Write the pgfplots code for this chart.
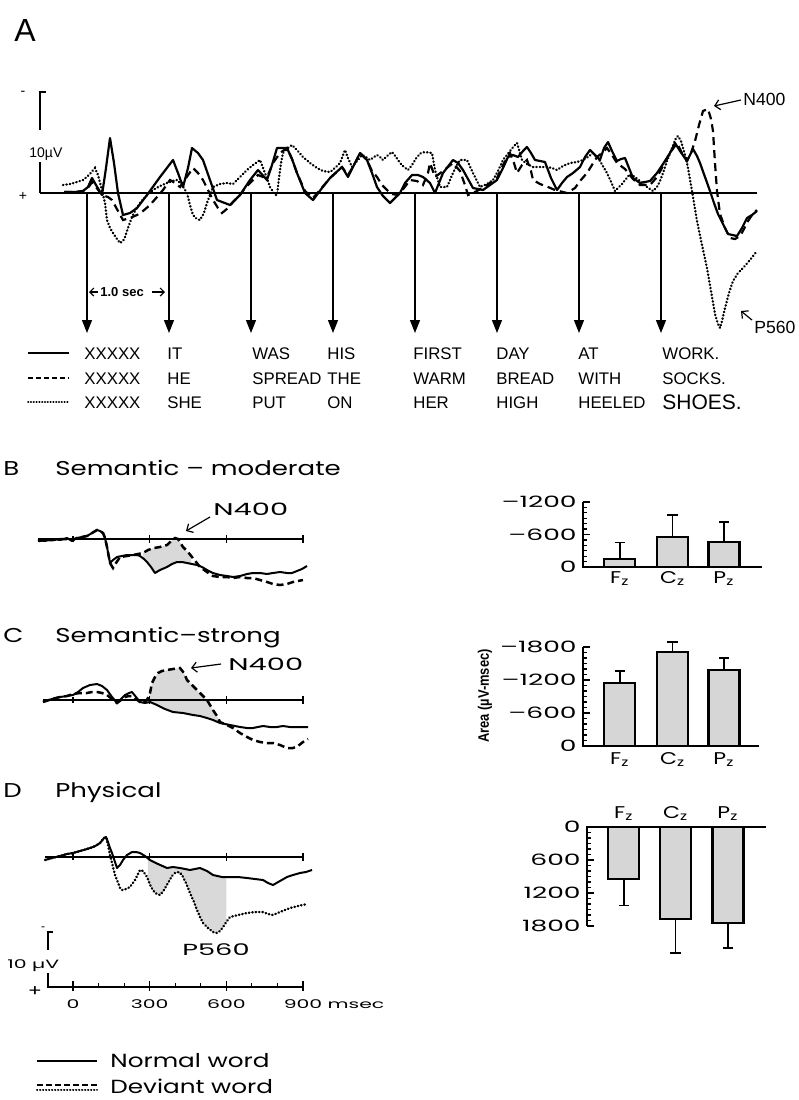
\documentclass[border=0pt]{standalone}
\usepackage{fontspec}
\setmainfont{Liberation Sans}
\newfontfamily\geo[FakeStretch=1.3]{Poppins}
\newfontfamily\geowide[FakeStretch=1.7]{Poppins}
\newfontfamily\narrowbold[FakeStretch=0.85]{Liberation Sans}
\usepackage{pgfplots}
\pgfplotsset{compat=1.18}
\usepackage{pgfplotstable}
\usepgfplotslibrary{fillbetween}
\usetikzlibrary{arrows.meta}
\newcommand{\fs}[1]{\fontsize{#1}{#1}\selectfont}

% ---------- Panel A: sentence ERPs (px = horizontal position, h = height above baseline) ----------
\pgfplotstableread{
px h
64 1
75 1
83 2
88 6
92 15
96 8
102 -2
106 25
110 55
114 30
118 0
123 -22
130 -20
137 -15
147 -2
160 16
173 33
178 20
183 6
188 25
192 45
198 40
203 33
210 13
217 -7
230 -12
240 -2
250 13
258 23
267 13
272 28
277 45
287 45
292 34
297 20
305 0
313 -7
322 5
330 15
342 26
348 16
354 28
360 40
367 33
372 20
377 6
383 -3
390 -10
400 0
405 10
412 18
418 18
423 16
430 10
435 0
443 20
453 33
458 30
463 23
468 14
473 5
483 3
497 13
503 25
508 36
513 38
518 36
523 42
527 46
531 40
535 33
540 32
545 31
551 15
557 3
562 10
567 16
573 20
580 26
585 36
590 43
595 38
600 33
604 45
608 51
612 42
617 32
621 34
625 35
629 25
633 15
640 10
650 12
657 20
663 29
670 40
675 50
680 42
687 32
690 38
693 44
697 37
700 30
705 16
710 2
714 -10
718 -21
723 -31
728 -41
737 -43
742 -35
747 -25
752 -22
757 -18
}\Asolid

\pgfplotstableread{
px h
64 1
75 1
83 2
88 5
92 11
96 6
102 -2
108 -4
112 -7
118 -18
123 -27
130 -25
137 -22
143 -18
150 -12
157 -4
163 3
170 13
175 10
180 6
186 15
193 25
198 20
203 13
208 3
213 -7
218 -15
222 -20
228 -15
233 -9
240 -2
245 5
252 12
258 18
263 16
268 18
273 30
280 40
287 45
292 34
297 20
305 2
313 -5
320 3
330 15
342 26
348 18
354 28
360 40
367 33
372 22
377 16
382 8
387 3
392 -1
398 -2
404 5
410 13
417 12
423 8
428 20
430 30
435 16
443 22
453 30
460 22
465 8
468 -2
477 2
487 8
497 15
503 28
510 40
514 30
517 20
522 28
527 33
531 22
533 13
540 9
548 6
555 3
567 0
575 5
580 12
587 20
592 28
597 36
602 40
607 45
612 38
617 30
625 24
633 14
640 8
650 8
657 16
663 27
670 40
677 50
682 40
687 32
691 40
695 52
699 68
703 82
708 84
711 74
713 62
715 30
717 2
720 -21
725 -35
730 -45
735 -46
740 -43
744 -36
748 -28
752 -22
757 -17
}\Adashed

\pgfplotstableread{
px h
63 8
70 9
77 11
83 13
89 18
95 25
98 18
102 3
105 -10
107 -27
110 -35
113 -40
117 -46
120 -50
123 -48
125 -44
128 -35
132 -24
136 -16
140 -10
146 -3
153 3
160 7
167 10
172 12
177 13
182 8
187 0
190 -12
193 -22
197 -26
200 -27
204 -20
207 -10
210 -2
213 6
220 9
227 10
233 9
237 13
242 18
247 23
253 28
260 33
265 20
270 6
275 -2
277 -2
279 15
281 30
283 40
288 45
292 48
297 43
303 36
310 30
317 25
323 22
330 21
335 25
340 30
345 43
348 35
352 26
357 32
362 38
366 36
370 33
374 36
377 38
380 36
383 33
387 37
392 41
396 36
400 30
404 26
408 23
412 28
417 36
421 40
425 41
432 40
435 23
440 6
447 6
453 20
457 28
460 33
467 33
473 20
480 6
487 9
493 13
498 22
503 33
510 42
514 47
517 50
520 40
522 33
527 29
533 26
540 26
547 26
552 25
557 23
563 27
570 30
577 31
583 33
588 36
593 40
600 32
607 20
612 9
615 2
618 5
622 9
626 14
630 19
635 16
640 12
647 6
653 2
657 6
660 12
663 20
667 32
672 45
676 55
678 57
681 52
683 45
686 35
688 25
692 2
697 -28
702 -52
707 -75
711 -98
715 -121
718 -131
720 -135
722 -128
725 -115
729 -100
733 -88
738 -80
743 -75
750 -67
757 -58
}\Adotted

% ---------- Panels B-D: (px = horizontal position, py = vertical position) ----------
\pgfplotstableread{
px py
38 540
45 541
53 539
60 540
67 538
72 541
77 538
82 537
87 536
92 533
97 530
100 531
103 533
105 538
107 547
110 563
113 560
117 557
122 556
127 555
132 555
137 555
140 556
144 559
147 562
151 567
155 573
160 570
167 567
172 564
177 562
182 562
187 563
192 564
197 565
202 567
207 570
213 573
220 575
227 576
233 577
240 576
247 574
253 573
260 573
267 574
273 573
280 572
287 573
292 573
297 571
302 569
307 566
}\Bnorm

\pgfplotstableread{
px py
38 541
45 540
53 540
60 539
67 539
72 540
77 538
82 537
87 536
92 533
97 530
100 531
103 533
105 538
107 547
110 563
113 568
116 563
120 557
127 556
133 555
138 554
143 553
148 550
154 548
160 547
167 545
171 541
175 538
178 539
183 547
188 552
192 557
196 562
200 567
207 572
213 576
220 577
227 577
233 578
240 577
247 578
253 578
260 580
267 582
273 584
280 585
287 584
293 582
298 581
303 580
}\Bdev

\pgfplotstableread{
px py
43 702
52 699
60 697
67 696
73 695
78 692
83 688
90 685
97 684
102 686
107 690
112 697
117 703
121 699
125 695
129 693
132 692
136 697
140 702
145 703
150 702
157 705
165 709
173 712
183 713
193 715
200 716
207 718
213 720
220 723
230 725
240 727
247 728
253 728
258 727
263 726
270 727
277 727
283 726
290 727
297 727
303 727
308 727
}\Cnorm

\pgfplotstableread{
px py
43 702
52 699
60 697
67 696
73 694
80 693
87 693
92 692
97 692
102 693
107 695
112 699
117 703
121 700
125 697
129 696
132 696
136 699
140 702
143 703
147 700
150 693
152 683
155 677
158 673
162 671
167 670
173 669
180 668
184 673
187 680
192 685
197 690
202 695
207 700
210 705
213 710
217 716
220 722
227 725
233 728
240 733
247 737
253 740
260 742
267 743
273 743
280 745
287 748
293 748
298 746
303 742
308 739
}\Cdev

\pgfplotstableread{
px py
45 860
52 858
60 856
67 854
73 853
80 851
87 849
93 847
97 845
100 843
104 838
106 837
108 842
110 848
112 853
115 862
117 868
120 865
123 860
127 855
132 852
136 852
140 853
145 856
150 860
158 864
167 868
173 867
180 868
185 869
190 870
195 869
200 868
207 871
213 875
222 877
230 877
238 877
247 878
255 879
263 880
268 883
273 885
280 881
287 877
293 875
300 873
306 872
312 870
}\Dnorm

\pgfplotstableread{
px py
45 860
52 858
60 856
67 854
73 853
80 851
87 849
93 847
97 845
100 843
104 838
106 837
108 845
110 855
113 867
115 875
117 880
120 888
122 890
126 889
130 887
135 880
140 870
143 871
147 877
151 887
155 893
160 895
164 890
168 883
172 876
175 873
179 872
182 875
186 883
190 893
194 902
197 910
200 917
203 923
208 928
213 932
217 933
220 931
223 927
227 921
230 917
238 915
247 913
255 912
263 912
268 914
273 915
280 912
290 908
298 906
307 904
}\Ddev

\pgfplotsset{
  wave/.style={at={#1}, anchor=north west, scale only axis, width=145pt, height=71.5pt,
    xmin=-168.3, xmax=966.5, ymin=-10, ymax=16, y dir=reverse, hide axis, clip=false},
  barax/.style={anchor=north west, scale only axis, xmin=0.3, xmax=3.65, width=89.4pt,
    y dir=reverse, axis line style={draw=none}, xtick=\empty, ytick pos=left,
    yticklabels=\empty,
    minor y tick num=5, tick align=inside, major tick length=3.4pt, minor tick length=1.9pt,
    every tick/.style={black, line width=0.6pt}, clip=false},
  bars/.style={ybar, bar width=15.5pt, fill=gray!32, draw=black, line width=1.1pt,
    error bars/.cd, y dir=#1, y explicit,
    error bar style={line width=0.8pt},
    error mark options={rotate=90, mark size=2.6pt, line width=0.8pt}},
  normal/.style={black, line width=1.0pt, line join=round},
  devdash/.style={black, line width=1.25pt, dash pattern=on 3.5pt off 2pt},
  devdot/.style={black, line width=1.25pt, dash pattern=on 0.2pt off 1.5pt, line cap=round},
}
\tikzset{
  ylab/.style={anchor=east, inner sep=0, font=\geowide\fs{7.8}, xshift=-3pt},
  elec/.style={anchor=base, inner sep=0, font=\geo\fs{8.5}},
}

\begin{document}
\begin{tikzpicture}

% ================= Panel A =================
\begin{axis}[at={(20pt,-40pt)}, anchor=north west, scale only axis,
  width=358.5pt, height=130pt, xmin=-0.5732, xmax=8.1707, ymin=-11.3, ymax=14.7,
  y dir=reverse, hide axis, clip=false]
  \draw[black, line width=0.9pt] (axis cs:-0.5732,0) -- (axis cs:8.1707,0);
  \pgfplotsinvokeforeach{0,1,2,3,4,5,6,7}{
    \draw[black, line width=0.6pt, -{Triangle[width=5pt,length=6.5pt]}]
      (axis cs:#1,0) -- (axis cs:#1,14.0);
  }
  \addplot[devdot, line width=1.2pt] table[x expr=(\thisrow{px}-87)/82, y expr=0-(\thisrow{h})/10] {\Adotted};
  \addplot[devdash, line width=1.1pt, dash pattern=on 4pt off 2.5pt] table[x expr=(\thisrow{px}-87)/82, y expr=0-(\thisrow{h})/10] {\Adashed};
  \addplot[normal, line width=1.1pt] table[x expr=(\thisrow{px}-87)/82, y expr=0-(\thisrow{h})/10] {\Asolid};
\end{axis}

\begin{scope}[x=0.5pt, y=-0.5pt]
  \node[anchor=base west, inner sep=0, font=\fs{16}] at (14,41) {A};
  % calibration
  \draw[line width=0.8pt] (46,92) -- (40,92) -- (40,130);
  \draw[line width=0.8pt] (40,162) -- (40,193);
  \node[font=\fs{7}] at (23,93) {-};
  \node[font=\fs{7}] at (23,196) {+};
  \node[anchor=base west, inner sep=0, font=\fs{7}] at (29,157) {10µV};
  % 1.0 sec
  \draw[line width=0.6pt, -{Straight Barb[length=2pt]}] (98,292) -- (89,292);
  \node[anchor=base west, inner sep=0, font=\bfseries\fs{6.5}] at (100,296) {1.0 sec};
  \draw[line width=0.6pt, -{Straight Barb[length=2pt]}] (152,292) -- (165,292);
  % N400 / P560
  \draw[line width=0.6pt, -{Straight Barb[length=2.5pt]}] (741,100) -- (714,106);
  \node[anchor=base west, inner sep=0, font=\fs{8.8}] at (743,105) {N400};
  \draw[line width=0.6pt, -{Straight Barb[length=2.5pt]}] (752,320) -- (741,311);
  \node[anchor=base west, inner sep=0, font=\fs{8.8}] at (754,333) {P560};
  % sentence legend
  \draw[line width=0.9pt] (28,353) -- (69,353);
  \draw[line width=0.9pt, dash pattern=on 2.5pt off 1.5pt] (28,378) -- (69,378);
  \draw[line width=0.9pt, dash pattern=on 0.2pt off 1.2pt, line cap=round] (28,402) -- (69,402);
  \begin{scope}[every node/.style={anchor=base west, inner sep=0, font=\fs{8.4}}]
    \node at (84,359) {XXXXX}; \node at (167,359) {IT}; \node at (252,359) {WAS};
    \node at (327,359) {HIS}; \node at (413,359) {FIRST}; \node at (496,359) {DAY};
    \node at (578,359) {AT}; \node at (662,359) {WORK.};
    \node at (84,384) {XXXXX}; \node at (167,384) {HE}; \node at (252,384) {SPREAD};
    \node at (327,384) {THE}; \node at (413,384) {WARM}; \node at (496,384) {BREAD};
    \node at (578,384) {WITH}; \node at (662,384) {SOCKS.};
    \node at (84,408) {XXXXX}; \node at (167,408) {SHE}; \node at (252,408) {PUT};
    \node at (327,408) {ON}; \node at (413,408) {HER}; \node at (496,408) {HIGH};
    \node at (578,408) {HEELED}; \node[font=\fs{10.5}] at (662,409) {SHOES.};
  \end{scope}
  % panel titles
  \node[anchor=base west, inner sep=0, font=\geo\fs{10}] at (3,475) {B};
  \node[anchor=base west, inner sep=0, font=\geo\fs{10}] at (55,475) {Semantic – moderate};
  \node[anchor=base west, inner sep=0, font=\geo\fs{10}] at (3,642) {C};
  \node[anchor=base west, inner sep=0, font=\geo\fs{10}] at (55,642) {Semantic–strong};
  \node[anchor=base west, inner sep=0, font=\geo\fs{10}] at (3,797) {D};
  \node[anchor=base west, inner sep=0, font=\geo\fs{10}] at (55,797) {Physical};
  % N400 labels B, C; P560 D
  \draw[line width=0.6pt, -{Straight Barb[length=2.5pt]}] (210,517) -- (186,531);
  \node[anchor=base west, inner sep=0, font=\geowide\fs{8.5}] at (213,515) {N400};
  \draw[line width=0.6pt, -{Straight Barb[length=2.5pt]}] (221,664) -- (191,668);
  \node[anchor=base west, inner sep=0, font=\geowide\fs{8.5}] at (228,670) {N400};
  \node[anchor=base west, inner sep=0, font=\geowide\fs{8}] at (182,955) {P560};
  % calibration D
  \node[font=\fs{6}] at (43,929) {-};
  \draw[line width=0.8pt] (53,932) -- (48,932) -- (48,950);
  \node[anchor=base west, inner sep=0, font=\geowide\fs{6}] at (7,968) {10 µV};
  \node[font=\geo\fs{8}] at (35,992) {+};
  % bottom legend
  \draw[line width=1pt] (37,1061) -- (97,1061);
  \draw[line width=1pt, dash pattern=on 3pt off 1.5pt] (37,1085) -- (97,1085);
  \draw[line width=1pt, dash pattern=on 0.2pt off 1.3pt, line cap=round] (37,1090) -- (97,1090);
  \node[anchor=base west, inner sep=0, font=\geo\fs{9.5}] at (110,1067) {Normal word};
  \node[anchor=base west, inner sep=0, font=\geo\fs{9.5}] at (110,1093) {Deviant word};
  % Area label
  \node[rotate=90, font=\narrowbold\bfseries\fs{7.6}] at (485,696) {Area (µV-msec)};
\end{scope}

% ================= Panel B waveform =================
\begin{axis}[wave={(15pt,-242pt)}]
  \addplot[name path=Bd, draw=none] table[x expr=(\thisrow{px}-73)/0.25556, y expr=(\thisrow{py}-539)/5.5] {\Bdev};
  \addplot[name path=Bn, draw=none] table[x expr=(\thisrow{px}-73)/0.25556, y expr=(\thisrow{py}-539)/5.5] {\Bnorm};
  \addplot[gray!30] fill between[of=Bd and Bn, soft clip={(axis cs:274,-20) rectangle (axis cs:462,30)}];
  \draw[line width=0.6pt] (axis cs:-137,0) -- (axis cs:900,0);
  \draw[line width=0.6pt] (axis cs:0,-0.5) -- (axis cs:0,0.5);
  \pgfplotsinvokeforeach{300,600,900}{\draw[line width=0.6pt] (axis cs:#1,-0.8) -- (axis cs:#1,0.8);}
  \addplot[devdash] table[x expr=(\thisrow{px}-73)/0.25556, y expr=(\thisrow{py}-539)/5.5] {\Bdev};
  \addplot[normal] table[x expr=(\thisrow{px}-73)/0.25556, y expr=(\thisrow{py}-539)/5.5] {\Bnorm};
\end{axis}

% ================= Panel C waveform =================
\begin{axis}[wave={(15pt,-322.5pt)}]
  \addplot[name path=Cd, draw=none] table[x expr=(\thisrow{px}-73)/0.25556, y expr=(\thisrow{py}-700)/5.5] {\Cdev};
  \addplot[name path=Cn, draw=none] table[x expr=(\thisrow{px}-73)/0.25556, y expr=(\thisrow{py}-700)/5.5] {\Cnorm};
  \addplot[gray!30] fill between[of=Cd and Cn, soft clip={(axis cs:300,-20) rectangle (axis cs:585,30)}];
  \draw[line width=0.6pt] (axis cs:-117,0) -- (axis cs:900,0);
  \draw[line width=0.6pt] (axis cs:0,-0.5) -- (axis cs:0,0.5);
  \pgfplotsinvokeforeach{300,600,900}{\draw[line width=0.6pt] (axis cs:#1,-0.8) -- (axis cs:#1,0.8);}
  \addplot[devdash] table[x expr=(\thisrow{px}-73)/0.25556, y expr=(\thisrow{py}-700)/5.5] {\Cdev};
  \addplot[normal] table[x expr=(\thisrow{px}-73)/0.25556, y expr=(\thisrow{py}-700)/5.5] {\Cnorm};
\end{axis}

% ================= Panel D waveform =================
\begin{axis}[wave={(15pt,-401pt)}]
  \addplot[name path=Dd, draw=none] table[x expr=(\thisrow{px}-73)/0.25556, y expr=(\thisrow{py}-857)/5.5] {\Ddev};
  \addplot[name path=Dn, draw=none] table[x expr=(\thisrow{px}-73)/0.25556, y expr=(\thisrow{py}-857)/5.5] {\Dnorm};
  \addplot[gray!30] fill between[of=Dd and Dn, soft clip={(axis cs:293,-20) rectangle (axis cs:600,30)}];
  \draw[line width=0.6pt] (axis cs:-110,0) -- (axis cs:900,0);
  \draw[line width=0.6pt] (axis cs:0,-0.5) -- (axis cs:0,0.5);
  \pgfplotsinvokeforeach{300,600,900}{\draw[line width=0.6pt] (axis cs:#1,-0.8) -- (axis cs:#1,0.8);}
  \addplot[devdot] table[x expr=(\thisrow{px}-73)/0.25556, y expr=(\thisrow{py}-857)/5.5] {\Ddev};
  \addplot[normal] table[x expr=(\thisrow{px}-73)/0.25556, y expr=(\thisrow{py}-857)/5.5] {\Dnorm};
  % time axis with calibration corner
  \draw[line width=0.8pt] (axis cs:-98,21.1) -- (axis cs:-98,23.64) -- (axis cs:900,23.64);
  \pgfplotsinvokeforeach{0,300,600,900}{\draw[line width=0.7pt] (axis cs:#1,22.6) -- (axis cs:#1,24.3);}
  \pgfplotsinvokeforeach{100,200,400,500,700,800}{\draw[line width=0.6pt] (axis cs:#1,22.9) -- (axis cs:#1,23.64);}
  \pgfplotsinvokeforeach{0,300,600,900}{\node[anchor=base, inner sep=0, font=\geowide\fs{6}] at (axis cs:#1,27.6) {#1};}
  \node[anchor=base west, inner sep=0, font=\geowide\fs{6}] at (axis cs:995,27.6) {msec};
\end{axis}

% ================= Bar charts =================
\begin{axis}[barax, at={(291.5pt,-251pt)}, height=32.5pt,
  ymin=-1200, ymax=0, ytick={-1200,-600,0}]
  \draw[line width=0.8pt] (axis cs:0.3,-1200) -- (axis cs:0.3,0) -- (axis cs:3.65,0);
  \addplot[bars=minus] coordinates {(0.99,-150) +- (0,300) (1.98,-550) +- (0,410) (2.94,-462) +- (0,368)};
  \node[ylab] at (axis cs:0.3,-1200) {–1200};
  \node[ylab] at (axis cs:0.3,-600) {–600};
  \node[ylab] at (axis cs:0.3,0) {0};
  \node[elec] at (axis cs:0.99,0) [yshift=-8pt] {F\textsubscript{z}};
  \node[elec] at (axis cs:1.98,0) [yshift=-8pt] {C\textsubscript{z}};
  \node[elec] at (axis cs:2.94,0) [yshift=-8pt] {P\textsubscript{z}};
\end{axis}

\begin{axis}[barax, at={(291.5pt,-323.5pt)}, height=49.5pt,
  ymin=-1800, ymax=0, ytick={-1800,-1200,-600,0}]
  \draw[line width=0.8pt] (axis cs:0.3,-1800) -- (axis cs:0.3,0) -- (axis cs:3.6,0);
  \addplot[bars=minus] coordinates {(0.99,-1150) +- (0,210) (1.98,-1710) +- (0,180) (2.94,-1382) +- (0,218)};
  \node[ylab] at (axis cs:0.3,-1800) {–1800};
  \node[ylab] at (axis cs:0.3,-1200) {–1200};
  \node[ylab] at (axis cs:0.3,-600) {–600};
  \node[ylab] at (axis cs:0.3,0) {0};
  \node[elec] at (axis cs:0.99,0) [yshift=-9pt] {F\textsubscript{z}};
  \node[elec] at (axis cs:1.98,0) [yshift=-9pt] {C\textsubscript{z}};
  \node[elec] at (axis cs:2.94,0) [yshift=-9pt] {P\textsubscript{z}};
\end{axis}

\begin{axis}[barax, at={(293.5pt,-413.5pt)}, height=49.5pt,
  ymin=0, ymax=1800, ytick={0,600,1200,1800}]
  \draw[line width=0.8pt] (axis cs:0.3,1800) -- (axis cs:0.3,0) -- (axis cs:3.65,0);
  \addplot[bars=plus] coordinates {(0.99,950) +- (0,480) (1.96,1670) +- (0,620) (2.94,1745) +- (0,455)};
  \node[ylab] at (axis cs:0.3,0) {0};
  \node[ylab] at (axis cs:0.3,600) {600};
  \node[ylab] at (axis cs:0.3,1200) {1200};
  \node[ylab] at (axis cs:0.3,1800) {1800};
  \node[elec] at (axis cs:0.99,0) [yshift=4.5pt] {F\textsubscript{z}};
  \node[elec] at (axis cs:1.96,0) [yshift=4.5pt] {C\textsubscript{z}};
  \node[elec] at (axis cs:2.94,0) [yshift=4.5pt] {P\textsubscript{z}};
\end{axis}
\pgfresetboundingbox
\path[use as bounding box] (0,0) rectangle (399.5pt,-550pt);
\end{tikzpicture}
\end{document}
